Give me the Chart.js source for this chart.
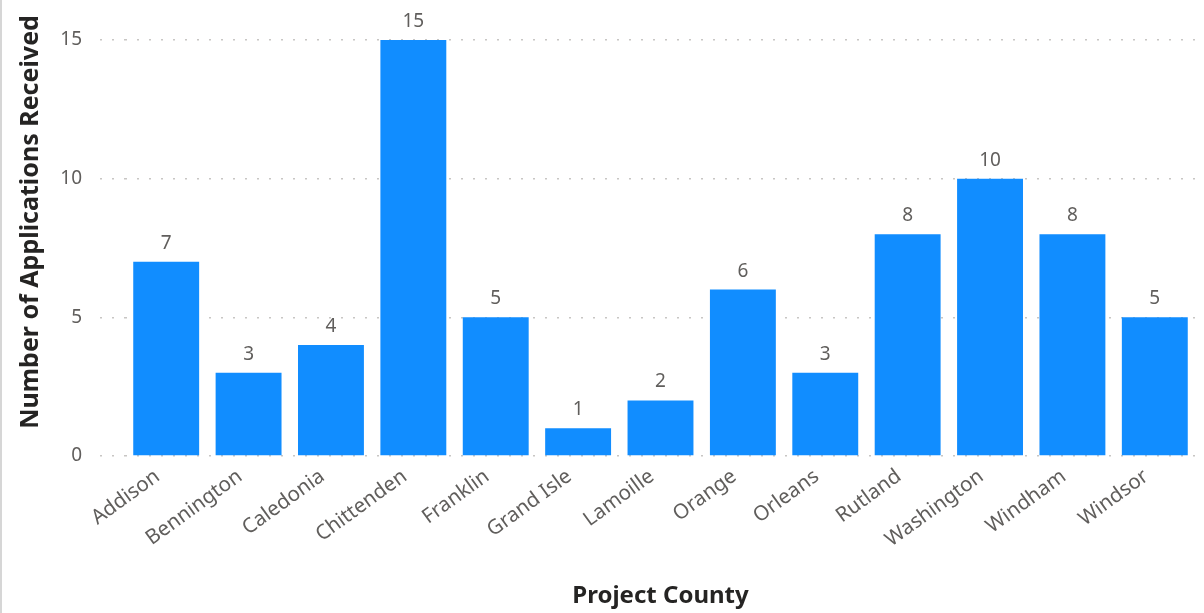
<!DOCTYPE html>
<html>
<head>
<meta charset="utf-8">
<script src="https://cdn.jsdelivr.net/npm/chart.js@4"></script>
<style>
    html, body { margin: 0; padding: 0; background: #fff; }
    #wrap { position: relative; width: 1202px; height: 613px; border-left: 2px solid #d6d6d6; }
</style>
</head>
<body>
<div id="wrap"><canvas id="countyChart"></canvas></div>
<script>
// --- Data ---
const counties = ['Addison', 'Bennington', 'Caledonia', 'Chittenden', 'Franklin', 'Grand Isle',
    'Lamoille', 'Orange', 'Orleans', 'Rutland', 'Washington', 'Windham', 'Windsor'];
const applications = [7, 3, 4, 15, 5, 1, 2, 6, 3, 8, 10, 8, 5];
const yTicks = [0, 5, 10, 15];

const FONT = "'Noto Sans', sans-serif";
const GREY = '#605E5C';
const DARK = '#252423';

// Value labels above each bar
const valueLabels = {
    id: 'valueLabels',
    afterDatasetsDraw(chart) {
        const { ctx } = chart;
        const meta = chart.getDatasetMeta(0);
        ctx.save();
        ctx.font = `19px ${FONT}`;
        ctx.fillStyle = GREY;
        ctx.textAlign = 'center';
        ctx.textBaseline = 'bottom';
        meta.data.forEach((bar, i) => {
            ctx.fillText(applications[i], bar.x, bar.y - 9);
        });
        ctx.restore();
    }
};

new Chart(document.getElementById('countyChart'), {
    type: 'bar',
    data: {
        labels: counties,
        datasets: [{
            data: applications,
            backgroundColor: '#118DFF',
            categoryPercentage: 0.8,
            barPercentage: 1.0
        }]
    },
    options: {
        responsive: true,
        maintainAspectRatio: false,
        animation: false,
        layout: { padding: { top: 40, right: 8, bottom: 2, left: 0 } },
        plugins: { legend: { display: false }, tooltip: { enabled: false } },
        scales: {
            x: {
                grid: { display: false },
                border: { display: false },
                ticks: {
                    font: { family: FONT, size: 20.5 },
                    color: GREY,
                    minRotation: 36,
                    maxRotation: 36,
                    padding: -6,
                    // trailing spaces nudge the rotated label left of the bar centre
                    callback: (v, i) => counties[i] + '  '
                },
                title: {
                    display: true,
                    text: 'Project County',
                    font: { family: FONT, size: 24, weight: 'bold' },
                    color: DARK,
                    padding: { top: 0, bottom: 0 }
                },
                afterFit(scale) { scale.height = 155; }
            },
            y: {
                min: 0,
                max: 15,
                afterBuildTicks(scale) { scale.ticks = yTicks.map(v => ({ value: v })); },
                grid: {
                    color: '#C8C6C4',
                    lineWidth: 1.5,
                    tickBorderDash: [2, 10],
                    tickLength: 25,
                    drawTicks: true
                },
                border: { display: false, dash: [2, 10] },
                ticks: {
                    font: { family: FONT, size: 19 },
                    color: GREY,
                    padding: 18
                },
                title: {
                    display: true,
                    // leading spaces lift the title a little, as in the original
                    text: ' '.repeat(8) + 'Number of Applications Received',
                    font: { family: FONT, size: 25, weight: 'bold' },
                    color: DARK,
                    padding: { top: 14, bottom: 0 }
                },
                afterFit(scale) { scale.width = 123; }
            }
        }
    },
    plugins: [valueLabels]
});
</script>
</body>
</html>
